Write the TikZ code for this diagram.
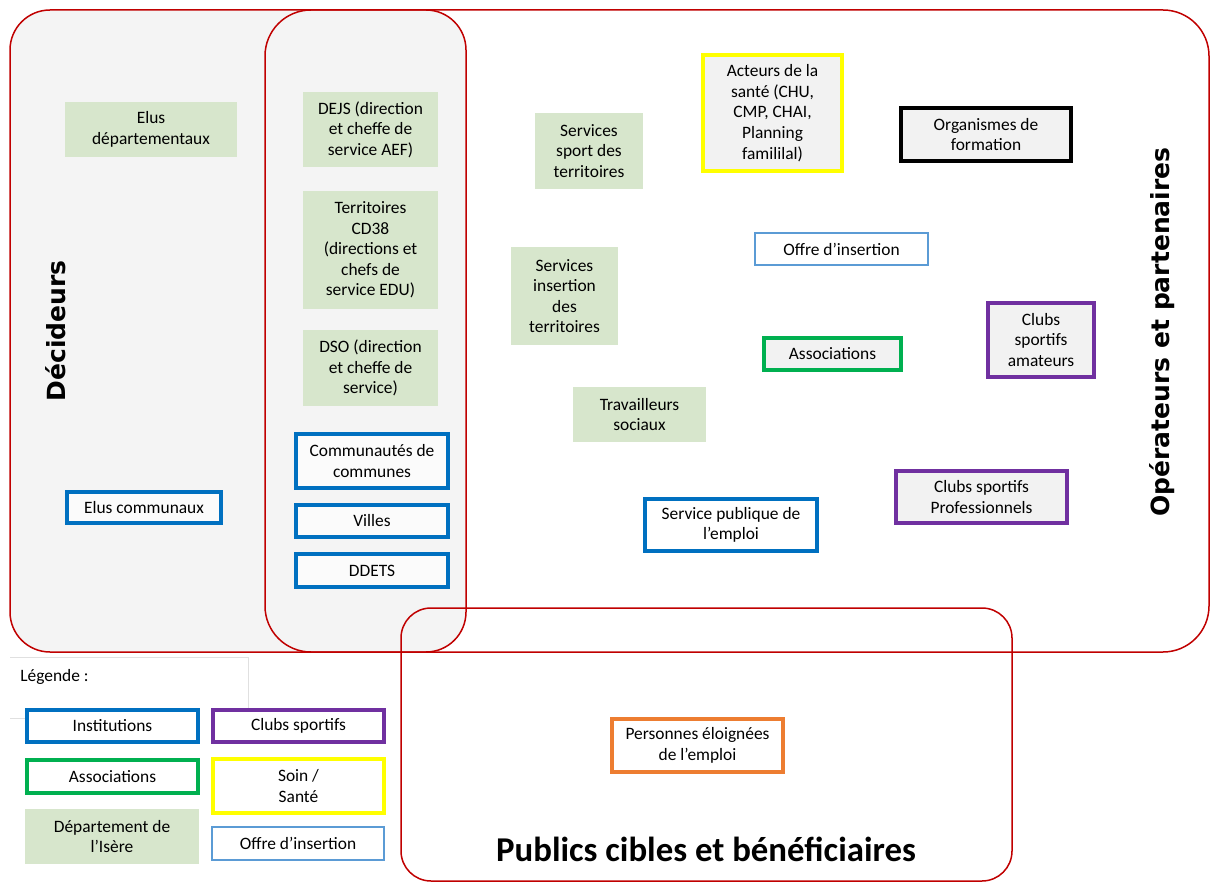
\documentclass[tikz,border=0pt]{standalone}
\usepackage{fontspec}
\setmainfont{Carlito}
\newfontfamily\titlefont{DejaVu Sans}
\usetikzlibrary{positioning}
\definecolor{zonered}{RGB}{192,0,0}
\definecolor{zonegray}{RGB}{244,244,244}
\definecolor{deptgreen}{RGB}{215,230,204}
\definecolor{instblue}{RGB}{0,112,192}
\definecolor{offreblue}{RGB}{91,155,213}
\definecolor{assocgreen}{RGB}{0,176,80}
\definecolor{clubpurple}{RGB}{112,48,160}
\definecolor{soinyellow}{RGB}{255,255,0}
\definecolor{persorange}{RGB}{237,125,49}
\definecolor{boxgray}{RGB}{242,242,242}
\tikzset{
    zone/.style={draw=zonered, line width=0.75pt},
    boxsize/.style 2 args={minimum width=#1*0.5pt, minimum height=#2*0.5pt},
    every node/.style={align=center, inner sep=1pt, font=\fontsize{8.7}{10.3}\selectfont},
    dept/.style={fill=deptgreen},
    inst/.style={draw=instblue, line width=2pt, fill=white},
    assoc/.style={draw=assocgreen, line width=2pt, fill=white},
    club/.style={draw=clubpurple, line width=2pt, fill=white},
    soin/.style={draw=soinyellow, line width=2pt, fill=white},
    offre/.style={draw=offreblue, line width=0.75pt, fill=white},
    forma/.style={draw=black, line width=2pt, fill=white},
    perso/.style={draw=persorange, line width=2pt, fill=white},
    titre/.style={font=\titlefont\bfseries\fontsize{12.5}{15}\selectfont}
}
\begin{document}
\begin{tikzpicture}[x=0.5pt, y=-0.5pt]
    \useasboundingbox (0,0) rectangle (1210,882);
    % zones
    \draw[zone, fill=zonegray, rounded corners=20pt] (10,10) rectangle (466,652);
    \draw[zone, rounded corners=23pt] (265,10) rectangle (1209,652);
    \draw[zone, rounded corners=15pt] (401,608) rectangle (1012,881);
    \node[titre, rotate=90] (decideurs) at (56,331) {Décideurs};
    \node[titre, rotate=90] (operateurs) at (1162,332) {Opérateurs et partenaires};
    \node[font=\bfseries\fontsize{17.4}{20}\selectfont] (publics) at (706,849) {Publics cibles et bénéficiaires};

    % decideurs
    \node[dept, boxsize={172}{55}] (eludep) at (151,129.5) {Elus\\départementaux};
    \node[inst, fill=white!60!zonegray, boxsize={154}{31}] (elucom) at (144,507.5) {Elus communaux};
    \node[dept, boxsize={135}{75}] (dejs) at (370.5,129.5) {DEJS (direction\\et cheffe de\\service AEF)};
    \node[dept, boxsize={135}{118}] (terr) at (370.5,250) {Territoires\\CD38\\(directions et\\chefs de\\service EDU)};
    \node[dept, boxsize={135}{76}] (dso) at (370.5,368) {DSO (direction\\et cheffe de\\service)};
    \node[inst, fill=white!60!zonegray, boxsize={152}{54}] (commu) at (372,461) {Communautés de\\communes};
    \node[inst, fill=white!60!zonegray, boxsize={152}{32}] (villes) at (372,521) {Villes};
    \node[inst, fill=white!60!zonegray, boxsize={152}{33}] (ddets) at (372,570.5) {DDETS};

    % operateurs et partenaires
    \node[dept, boxsize={108}{76}] (spsport) at (589,151) {Services\\sport des\\territoires};
    \node[dept, boxsize={107}{98}] (spins) at (564.5,296) {Services\\insertion\\des\\territoires};
    \node[dept, boxsize={133}{55}] (trav) at (639.5,414.5) {Travailleurs\\sociaux};
    \node[soin, fill=boxgray, boxsize={139}{116}] (acteurs) at (772.5,113) {Acteurs de la\\santé (CHU,\\CMP, CHAI,\\Planning\\famililal)};
    \node[forma, fill=boxgray, boxsize={170}{53}] (orgform) at (986,134.5) {Organismes de\\formation};
    \node[offre, boxsize={173}{32}] (offre) at (841.5,249) {Offre d’insertion};
    \node[assoc, fill=boxgray, boxsize={137}{32}] (assoc) at (832.5,354) {Associations};
    \node[club, fill=boxgray, boxsize={106}{74}] (clubam) at (1041,340) {Clubs\\sportifs\\amateurs};
    \node[club, fill=boxgray, boxsize={171}{52}] (clubpro) at (981.5,497) {Clubs sportifs\\Professionnels};
    \node[inst, boxsize={172}{52}] (spe) at (731,525) {Service publique de\\l’emploi};

    % publics cibles
    \node[perso, boxsize={171}{53}] (perso) at (697.5,745.5) {Personnes éloignées\\de l’emploi};

    % legende
    \draw[black!12, line width=0.5pt] (10,657) -- (248,657) -- (248,708);
    \draw[black!12, line width=0.5pt] (10,718) -- (25,718);
    \node[anchor=west] (legende) at (18,677) {Légende :};
    \node[inst, boxsize={171}{32}] (leginst) at (112.5,726) {Institutions};
    \node[assoc, boxsize={171}{33}] (legassoc) at (112.5,776.5) {Associations};
    \node[dept, boxsize={174}{55}] (legdept) at (112,836.5) {Département de\\l'Isère};
    \node[club, boxsize={171}{32}] (legclub) at (298.5,726) {Clubs sportifs};
    \node[soin, boxsize={171}{54}] (legsoin) at (298.5,786) {Soin /\\Santé};
    \node[offre, boxsize={172}{33}] (legoffre) at (298,843.5) {Offre d’insertion};
\end{tikzpicture}
\end{document}
